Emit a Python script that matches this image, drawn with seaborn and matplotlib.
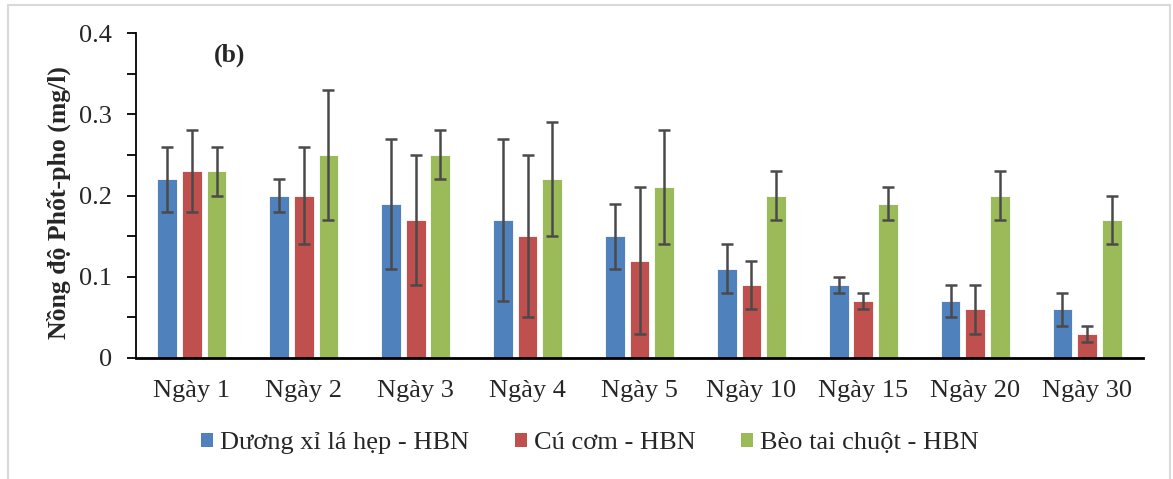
import matplotlib
matplotlib.use("Agg")
import matplotlib.pyplot as plt
import seaborn as sns
import pandas as pd
import numpy as np
from matplotlib.lines import Line2D
from matplotlib.ticker import MultipleLocator

days = ["Ngày 1", "Ngày 2", "Ngày 3", "Ngày 4", "Ngày 5", "Ngày 10", "Ngày 15", "Ngày 20", "Ngày 30"]
series = ["Dương xỉ lá hẹp - HBN", "Cú cơm - HBN", "Bèo tai chuột - HBN"]
duong_xi = [0.22, 0.20, 0.19, 0.17, 0.15, 0.11, 0.09, 0.07, 0.06]
duong_xi_err = [0.04, 0.02, 0.08, 0.10, 0.04, 0.03, 0.01, 0.02, 0.02]
cu_com = [0.23, 0.20, 0.17, 0.15, 0.12, 0.09, 0.07, 0.06, 0.03]
cu_com_err = [0.05, 0.06, 0.08, 0.10, 0.09, 0.03, 0.01, 0.03, 0.01]
beo = [0.23, 0.25, 0.25, 0.22, 0.21, 0.20, 0.19, 0.20, 0.17]
beo_err = [0.03, 0.08, 0.03, 0.07, 0.07, 0.03, 0.02, 0.03, 0.03]
colors = ["#4F81BD", "#C0504D", "#9BBB59"]

df = pd.DataFrame({
    "day": days * 3,
    "series": [s for s in series for _ in days],
    "value": duong_xi + cu_com + beo,
    "err": duong_xi_err + cu_com_err + beo_err,
})

sns.set_style("white")
plt.rcParams["font.family"] = ["Liberation Serif", "DejaVu Serif"]

W, H = 1173, 479
fig = plt.figure(figsize=(W / 100, H / 100), dpi=100)
ax = fig.add_axes([136 / W, 1 - 358 / H, (1143 - 136) / W, (358 - 33) / H])

sns.barplot(data=df, x="day", y="value", hue="series", order=days, hue_order=series,
            palette=colors, saturation=1, width=0.66, gap=0.2, errorbar=None, ax=ax,
            edgecolor="white", linewidth=0.6, legend=False)

# error bars placed at the bar centres produced by seaborn
for container, s in zip(ax.containers, series):
    sub = df[df["series"] == s].set_index("day").loc[days]
    xs = [p.get_x() + p.get_width() / 2 for p in container.patches]
    hs = [p.get_height() for p in container.patches]
    ax.errorbar(xs, hs, yerr=sub["err"].values, fmt="none", ecolor="#4a4a4a",
                elinewidth=1.8, capsize=4.5, capthick=1.8, zorder=5)

ax.set_ylim(0, 0.4)
ax.set_xlim(-0.5, len(days) - 0.5)
ax.yaxis.set_minor_locator(MultipleLocator(0.05))
ax.set_yticks([0, 0.1, 0.2, 0.3, 0.4])
ax.set_yticklabels(["0", "0.1", "0.2", "0.3", "0.4"])
ax.tick_params(axis="y", which="major", direction="out", length=6.5, width=1.3,
               labelsize=19, pad=11, left=True, color="black")
ax.tick_params(axis="y", which="minor", direction="out", length=6.5, width=1.3, left=True, color="black")
ax.tick_params(axis="x", length=0, labelsize=19, pad=16)
for sp in ["top", "right"]:
    ax.spines[sp].set_visible(False)
for sp in ["left", "bottom"]:
    ax.spines[sp].set_color("black")
ax.spines["left"].set_linewidth(1.3)
ax.spines["bottom"].set_linewidth(2)
ax.set_xlabel("")
ax.set_ylabel("Nồng độ Phốt-pho (mg/l)", fontsize=18.5, fontweight="bold")
ax.yaxis.set_label_coords(-65 / 1007, (358 - 203) / 325)
ax.text(78 / 1007, 1 - 22 / 325, "(b)", transform=ax.transAxes, fontsize=18.5, fontweight="bold",
        ha="left", va="center")

handles = [plt.Rectangle((0, 0), 1, 1, facecolor=c, edgecolor="none") for c in colors]
fig.legend(handles, series, loc="center", bbox_to_anchor=(0.503, 1 - 443 / H), ncol=3,
           frameon=False, fontsize=19, handlelength=0.45, handleheight=0.45,
           handletextpad=0.25, columnspacing=1.75)

# light frame around the figure
fc = "#d9d9d9"
fig.add_artist(Line2D([8 / W, 8 / W], [0, 1 - 5 / H], transform=fig.transFigure, color=fc, lw=1.5))
fig.add_artist(Line2D([8 / W, 1170 / W], [1 - 5 / H, 1 - 5 / H], transform=fig.transFigure, color=fc, lw=1.5))
fig.add_artist(Line2D([1170 / W, 1170 / W], [0, 1 - 5 / H], transform=fig.transFigure, color=fc, lw=1.5))

fig.savefig("out.png", dpi=100)
